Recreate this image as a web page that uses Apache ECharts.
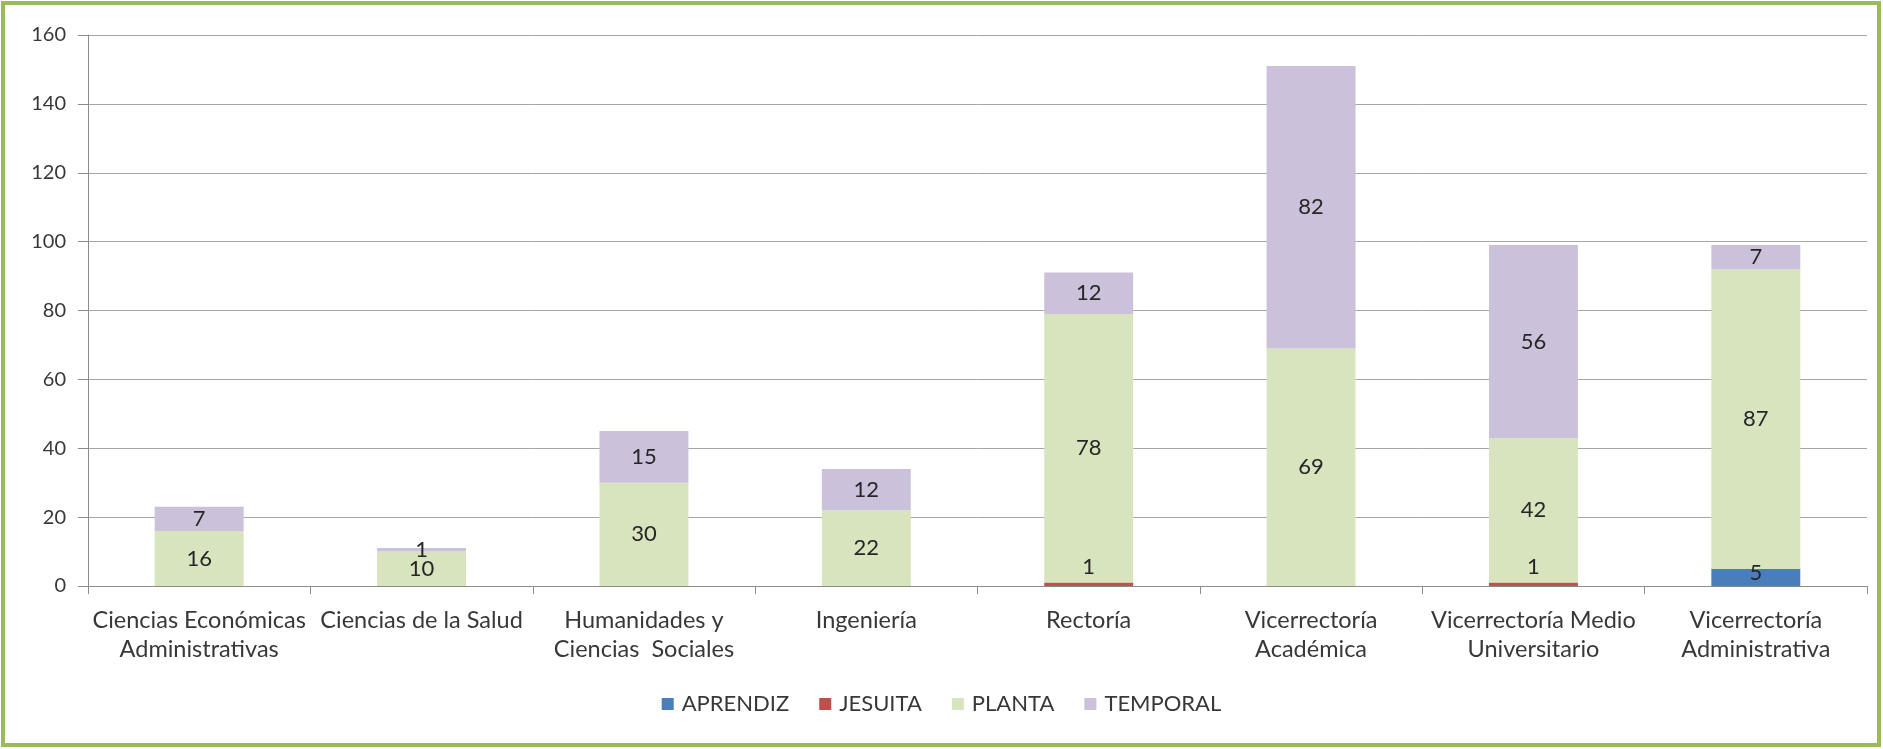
<!DOCTYPE html>
<html>
<head>
<meta charset="utf-8">
<script src="https://cdn.jsdelivr.net/npm/echarts@6/dist/echarts.min.js"></script>
<style>
  html, body { margin: 0; padding: 0; background: #ffffff; }
  #chart { width: 1883px; height: 749px; }
</style>
</head>
<body>
<div id="chart"></div>
<script>
// Staff headcount per unit, stacked by contract type
const categories = [
  'Ciencias Económicas\nAdministrativas',
  'Ciencias de la Salud',
  'Humanidades y\nCiencias  Sociales',
  'Ingeniería',
  'Rectoría',
  'Vicerrectoría\nAcadémica',
  'Vicerrectoría Medio\nUniversitario',
  'Vicerrectoría\nAdministrativa'
];
const aprendiz = [0, 0, 0, 0, 0, 0, 0, 5];
const jesuita  = [0, 0, 0, 0, 1, 0, 1, 0];
const planta   = [16, 10, 30, 22, 78, 69, 42, 87];
const temporal = [7, 1, 15, 12, 12, 82, 56, 7];
const yTicks = { min: 0, max: 160, interval: 20 };

const FONT = 'Lato';
const TEXT = '#383838';
const colors = {
  APRENDIZ: '#4a7ebb',
  JESUITA: '#c0504d',
  PLANTA: '#d7e4bd',
  TEMPORAL: '#ccc1da'
};

function seriesOf(name, data, labelPos, labelDist) {
  return {
    name: name,
    type: 'bar',
    stack: 'total',
    barWidth: '40%',
    data: data,
    itemStyle: { color: colors[name] },
    label: {
      show: true,
      position: labelPos,
      distance: labelDist,
      fontFamily: FONT,
      fontSize: 22,
      color: '#262626',
      formatter: p => (p.value ? String(p.value) : '')
    }
  };
}

const chart = echarts.init(document.getElementById('chart'), null, { renderer: 'canvas' });
chart.setOption({
  animation: false,
  backgroundColor: '#ffffff',
  textStyle: { fontFamily: FONT },
  graphic: [{
    type: 'rect',
    shape: { x: 3, y: 3, width: 1876, height: 742 },
    style: { fill: 'none', stroke: '#9bbb59', lineWidth: 4 },
    silent: true
  }],
  grid: { left: 88, right: 16, top: 35, bottom: 163, containLabel: false },
  legend: {
    bottom: 29,
    left: 'center',
    icon: 'rect',
    itemWidth: 12,
    itemHeight: 12,
    itemGap: 30,
    textStyle: { fontFamily: FONT, fontSize: 22, color: TEXT, padding: [0, 0, 0, 3] },
    data: ['APRENDIZ', 'JESUITA', 'PLANTA', 'TEMPORAL']
  },
  xAxis: {
    type: 'category',
    data: categories,
    axisLine: { show: true, lineStyle: { color: '#8c8c8c', width: 1 } },
    axisTick: { show: true, length: 8, lineStyle: { color: '#8c8c8c' } },
    axisLabel: {
      interval: 0,
      margin: 20,
      fontFamily: FONT,
      fontSize: 23.5,
      color: TEXT,
      lineHeight: 29
    }
  },
  yAxis: {
    type: 'value',
    min: yTicks.min,
    max: yTicks.max,
    interval: yTicks.interval,
    axisLine: { show: true, lineStyle: { color: '#8c8c8c', width: 1 } },
    axisTick: { show: true, length: 10, lineStyle: { color: '#8c8c8c' } },
    axisLabel: { margin: 22, fontFamily: FONT, fontSize: 20, color: TEXT },
    splitLine: { show: true, lineStyle: { color: '#a6a6a6', width: 1 } }
  },
  series: [
    seriesOf('APRENDIZ', aprendiz, 'insideBottom', 2),
    seriesOf('JESUITA', jesuita, 'insideBottom', 8),
    seriesOf('PLANTA', planta, 'inside', 5),
    seriesOf('TEMPORAL', temporal, 'inside', 5)
  ]
});
</script>
</body>
</html>
